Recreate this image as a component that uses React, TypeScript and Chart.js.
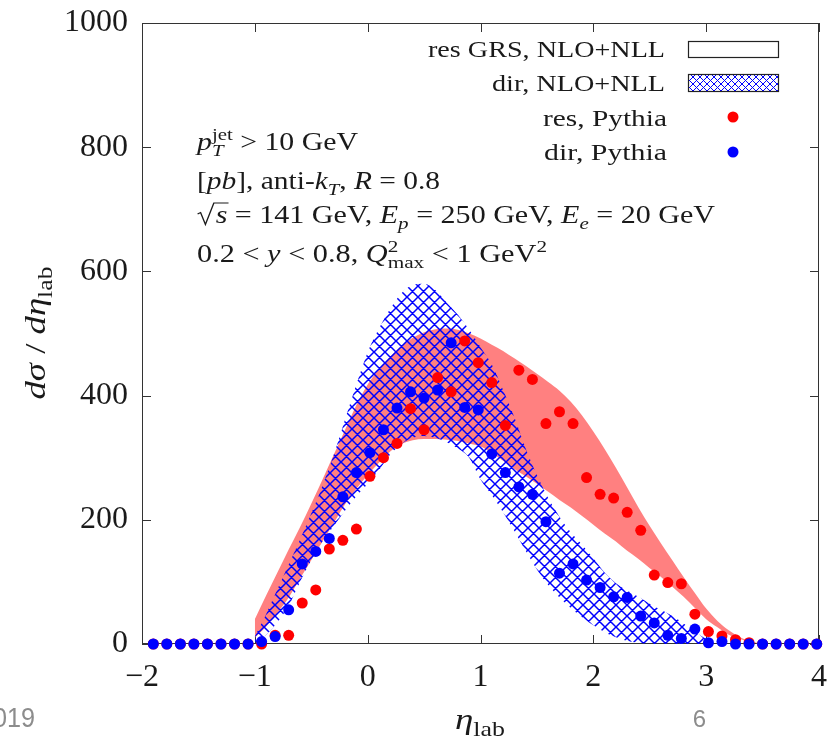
import React, { useEffect, useRef } from 'react';
import { Chart, registerables } from 'chart.js';
Chart.register(...registerables);

// ---- data ----
const pythiaEta = [-1.90, -1.78, -1.66, -1.54, -1.42, -1.30, -1.18, -1.06, -0.94, -0.82, -0.70, -0.58, -0.46, -0.34, -0.22, -0.10, 0.02, 0.14, 0.26, 0.38, 0.50, 0.62, 0.74, 0.86, 0.98, 1.10, 1.22, 1.34, 1.46, 1.58, 1.70, 1.82, 1.94, 2.06, 2.18, 2.30, 2.42, 2.54, 2.66, 2.78, 2.90, 3.02, 3.14, 3.26, 3.38, 3.50, 3.62, 3.74, 3.86, 3.98];
const resPythia = [0, 0, 0, 0, 0, 0, 0, 0, 0, 14, 14, 66, 87, 153, 167, 185, 270, 300, 323, 379, 345, 429, 406, 488, 453, 421, 352, 441, 426, 355, 374, 355, 268, 241, 235, 212, 183, 111, 99, 97, 48, 20, 13, 7, 2, 0, 0, 0, 0, 0];
const dirPythia = [0, 0, 0, 0, 0, 0, 0, 0, 4, 12, 55, 129, 149, 170, 237, 276, 308, 345, 380, 406, 396, 409, 485, 381, 377, 306, 276, 253, 241, 197, 114, 129, 103, 91, 76, 75, 45, 34, 14, 9, 24, 2, 4, 0, 0, 0, 0, 0, 0, 0];

const bandEta = [-1.0, -0.9, -0.8, -0.7, -0.6, -0.5, -0.4, -0.3, -0.2, -0.1, 0.0, 0.1, 0.2, 0.3, 0.4, 0.5, 0.6, 0.7, 0.8, 0.9, 1.0, 1.1, 1.2, 1.3, 1.4, 1.5, 1.6, 1.7, 1.8, 1.9, 2.0, 2.1, 2.2, 2.3, 2.4, 2.5, 2.6, 2.7, 2.8, 2.9, 3.0, 3.1, 3.2, 3.3, 3.4, 3.5];
const resUpper = [40, 78, 115, 152, 188, 226, 265, 305, 345, 385, 418, 443, 463, 480, 493, 502, 507, 508, 506, 500, 492, 482, 472, 460, 448, 435, 422, 408, 390, 368, 342, 314, 284, 252, 220, 190, 162, 135, 108, 82, 57, 37, 22, 11, 4, 0];
const resLower = [10, 28, 50, 75, 105, 135, 165, 195, 225, 250, 272, 292, 310, 322, 328, 330, 330, 329, 327, 323, 318, 308, 295, 282, 270, 258, 245, 232, 220, 206, 192, 178, 165, 150, 137, 122, 108, 92, 76, 58, 40, 27, 15, 8, 3, 0];
const dirUpper = [12, 48, 88, 128, 168, 210, 255, 305, 362, 418, 470, 508, 540, 565, 578, 580, 570, 550, 530, 506, 478, 450, 409, 365, 315, 272, 235, 205, 180, 160, 138, 115, 98, 86, 76, 65, 55, 45, 33, 20, 8, 0, 0, 0, 0, 0];
const dirLower = [0, 15, 35, 62, 100, 135, 165, 190, 215, 238, 258, 280, 305, 322, 332, 335, 332, 325, 315, 300, 265, 240, 212, 182, 150, 120, 95, 75, 58, 43, 30, 19, 11, 5, 2, 0, 0, 0, 0, 0, 0, 0, 0, 0, 0, 0];

const xTicks = [-2, -1, 0, 1, 2, 3, 4];
const yTicks = [0, 200, 400, 600, 800, 1000];

const legendLabels = ['res GRS, NLO+NLL', 'dir, NLO+NLL', 'res, Pythia', 'dir, Pythia'];

// ---- text helpers ----
const FAM = '"Liberation Serif", "Times New Roman", serif';
const TXT = '#1a1a1a';
type Seg = { t: string; it?: boolean; sub?: string; sup?: string; subIt?: boolean; rad?: boolean };
const fnt = (size: number, it?: boolean) => `${it ? 'italic ' : ''}${size}px ${FAM}`;

function measureSeg(ctx: CanvasRenderingContext2D, s: Seg, size: number) {
  ctx.font = fnt(size, s.it);
  let w = ctx.measureText(s.t).width;
  if (s.rad) w += size * 0.62;
  const ss = size * 0.7;
  let sw = 0;
  if (s.sub) { ctx.font = fnt(ss, s.subIt); sw = Math.max(sw, ctx.measureText(s.sub).width); }
  if (s.sup) { ctx.font = fnt(ss, false); sw = Math.max(sw, ctx.measureText(s.sup).width); }
  return w + sw;
}

function drawRich(ctx: CanvasRenderingContext2D, segs: Seg[], x: number, y: number, size: number,
  align: 'left' | 'right' | 'center', target?: number) {
  const widths = segs.map(s => measureSeg(ctx, s, size));
  const nat = widths.reduce((a, b) => a + b, 0);
  const sx = target ? target / nat : 1;
  const tot = nat * sx;
  const x0 = align === 'left' ? x : align === 'right' ? x - tot : x - tot / 2;
  ctx.save();
  ctx.translate(x0, y);
  ctx.scale(sx, 1);
  ctx.textAlign = 'left';
  ctx.textBaseline = 'alphabetic';
  ctx.fillStyle = TXT;
  ctx.strokeStyle = TXT;
  let cx = 0;
  segs.forEach((s, i) => {
    let bx = cx;
    ctx.font = fnt(size, s.it);
    const tw = ctx.measureText(s.t).width;
    if (s.rad) {
      const u = size;
      ctx.lineWidth = u * 0.045;
      ctx.beginPath();
      ctx.moveTo(bx + 0.02 * u, -0.36 * u);
      ctx.lineTo(bx + 0.12 * u, -0.42 * u);
      ctx.lineTo(bx + 0.28 * u, 0.06 * u);
      ctx.lineTo(bx + 0.56 * u, -0.8 * u);
      ctx.lineTo(bx + 0.62 * u + tw + 0.04 * u, -0.8 * u);
      ctx.stroke();
      bx += 0.62 * u;
    }
    ctx.font = fnt(size, s.it);
    ctx.fillText(s.t, bx, 0);
    const ss = size * 0.7;
    if (s.sub) { ctx.font = fnt(ss, s.subIt); ctx.fillText(s.sub, bx + tw, size * 0.24); }
    if (s.sup) { ctx.font = fnt(ss, false); ctx.fillText(s.sup, bx + tw, -size * 0.4); }
    cx += widths[i];
  });
  ctx.restore();
}

function makeHatch(size: number, lw: number, color: string) {
  const c = document.createElement('canvas');
  c.width = size; c.height = size;
  const g = c.getContext('2d')!;
  g.strokeStyle = color;
  g.lineWidth = lw;
  g.beginPath();
  for (const k of [-size, 0, size]) {
    g.moveTo(-size, -size + k); g.lineTo(2 * size, 2 * size + k);
    g.moveTo(-size, 2 * size + k); g.lineTo(2 * size, -size + k);
  }
  g.stroke();
  return g.createPattern(c, 'repeat')!;
}

const decor = {
  id: 'decor',
  beforeDatasetsDraw(chart: any) {
    const { ctx, chartArea: a, scales } = chart;
    ctx.save();
    ctx.strokeStyle = '#333';
    ctx.lineWidth = 1;
    ctx.strokeRect(a.left + 0.5, a.top + 0.5, a.right - a.left - 1, a.bottom - a.top - 1);
    ctx.beginPath();
    for (const v of xTicks) {
      const px = Math.round(scales.x.getPixelForValue(v)) + 0.5;
      ctx.moveTo(px, a.bottom); ctx.lineTo(px, a.bottom - 9);
      ctx.moveTo(px, a.top); ctx.lineTo(px, a.top + 9);
    }
    for (const v of yTicks) {
      const py = Math.round(scales.y.getPixelForValue(v)) + 0.5;
      ctx.moveTo(a.left, py); ctx.lineTo(a.left + 9, py);
      ctx.moveTo(a.right, py); ctx.lineTo(a.right - 9, py);
    }
    ctx.stroke();
    ctx.restore();
  },
  afterDraw(chart: any) {
    const ctx: CanvasRenderingContext2D = chart.ctx;
    ctx.save();
    // annotations
    drawRich(ctx, [{ t: 'p', it: true, sub: 'T', subIt: true, sup: 'jet' }, { t: ' > 10 GeV' }], 197, 150, 25, 'left', 161);
    drawRich(ctx, [{ t: '[' }, { t: 'pb', it: true }, { t: '], anti-' }, { t: 'k', it: true, sub: 'T', subIt: true }, { t: ', ' }, { t: 'R', it: true }, { t: ' = 0.8' }], 197, 189, 25, 'left', 243);
    drawRich(ctx, [{ t: 's', it: true, rad: true }, { t: ' = 141 GeV, ' }, { t: 'E', it: true, sub: 'p', subIt: true }, { t: ' = 250 GeV, ' }, { t: 'E', it: true, sub: 'e', subIt: true }, { t: ' = 20 GeV' }], 197, 223, 25, 'left', 518);
    drawRich(ctx, [{ t: '0.2 < ' }, { t: 'y', it: true }, { t: ' < 0.8, ' }, { t: 'Q', it: true, sub: 'max', sup: '2' }, { t: ' < 1 GeV', sup: '2' }], 197, 262, 25, 'left', 350);

    // legend
    drawRich(ctx, [{ t: legendLabels[0] }], 665, 57, 24, 'right', 237);
    drawRich(ctx, [{ t: legendLabels[1] }], 665, 91, 24, 'right', 173);
    drawRich(ctx, [{ t: legendLabels[2] }], 667, 126, 24, 'right', 124);
    drawRich(ctx, [{ t: legendLabels[3] }], 667, 160, 24, 'right', 123);
    ctx.fillStyle = '#fff';
    ctx.fillRect(688, 41, 91, 17);
    ctx.strokeStyle = '#222';
    ctx.lineWidth = 1.2;
    ctx.strokeRect(688.5, 41.5, 90, 16);
    ctx.fillStyle = '#fff';
    ctx.fillRect(688, 74, 91, 18);
    ctx.fillStyle = makeHatch(7, 1, '#0000ff');
    ctx.fillRect(688, 74, 91, 18);
    ctx.strokeRect(688.5, 74.5, 90, 17);
    ctx.fillStyle = '#ff0000';
    ctx.beginPath(); ctx.arc(733, 117, 5.5, 0, Math.PI * 2); ctx.fill();
    ctx.fillStyle = '#0000ff';
    ctx.beginPath(); ctx.arc(733, 152, 5.5, 0, Math.PI * 2); ctx.fill();

    // axis titles
    drawRich(ctx, [{ t: 'η', it: true, sub: 'lab' }], 480, 729, 30, 'center', 50);
    ctx.save();
    ctx.translate(45, 333);
    ctx.rotate(-Math.PI / 2);
    drawRich(ctx, [{ t: 'dσ', it: true }, { t: ' / ' }, { t: 'dη', it: true, sub: 'lab' }], 0, 0, 30, 'center', 133);
    ctx.restore();

    // slide remnants
    ctx.fillStyle = '#8c8c8c';
    ctx.textBaseline = 'alphabetic';
    ctx.font = '28px "Liberation Sans", sans-serif';
    ctx.save();
    ctx.translate(35, 727);
    ctx.scale(0.9, 1);
    ctx.textAlign = 'right';
    ctx.fillText('2019', 0, 0);
    ctx.restore();
    ctx.font = '24px "Liberation Sans", sans-serif';
    ctx.textAlign = 'right';
    ctx.fillText('6', 706, 727);
    ctx.restore();
  },
};

export default function App() {
  const ref = useRef<HTMLCanvasElement | null>(null);
  useEffect(() => {
    const canvas = ref.current!;
    const hatch = makeHatch(11, 1.5, '#0000ff');
    const pts = (xs: number[], ys: number[]) => xs.map((x, i) => ({ x, y: ys[i] }));
    const minus = (v: any) => (Number(v) < 0 ? '\u2212' + Math.abs(Number(v)) : String(v));
    const band = { borderWidth: 0, pointRadius: 0, cubicInterpolationMode: 'monotone' };
    const chart = new Chart(canvas, {
      type: 'line',
      data: {
        datasets: [
          { ...band, label: 'resLower', data: pts(bandEta, resLower), fill: false, order: 5 } as any,
          { ...band, label: 'resUpper', data: pts(bandEta, resUpper), fill: '-1', backgroundColor: 'rgb(255,128,128)', order: 4 } as any,
          { ...band, label: 'dirLower', data: pts(bandEta, dirLower), fill: false, order: 3 } as any,
          { ...band, label: 'dirUpper', data: pts(bandEta, dirUpper), fill: '-1', backgroundColor: hatch, order: 2 } as any,
          { label: 'resPythia', data: pts(pythiaEta, resPythia), showLine: false, pointRadius: 5.5, pointBackgroundColor: '#ff0000', pointBorderWidth: 0, borderColor: '#ff0000', clip: false, order: 1 } as any,
          { label: 'dirPythia', data: pts(pythiaEta, dirPythia), showLine: false, pointRadius: 5.5, pointBackgroundColor: '#0000ff', pointBorderWidth: 0, borderColor: '#0000ff', clip: false, order: 0 } as any,
        ],
      },
      options: {
        animation: false,
        responsive: false,
        devicePixelRatio: 1,
        layout: { padding: { top: 23, right: 10, left: 0, bottom: 0 } },
        plugins: { legend: { display: false }, tooltip: { enabled: false } },
        elements: { point: { hoverRadius: 5.5 } },
        scales: {
          x: {
            type: 'linear', min: -2, max: 4,
            afterBuildTicks: (s: any) => { s.ticks = xTicks.map(v => ({ value: v })); },
            afterFit: (s: any) => { s.height = 94; s.paddingLeft = 0; s.paddingRight = 0; },
            grid: { display: false, drawTicks: false },
            border: { display: false },
            ticks: { font: { family: 'Liberation Serif', size: 32 }, color: TXT, padding: 14, maxRotation: 0, autoSkip: false, callback: minus },
          },
          y: {
            type: 'linear', min: 0, max: 1000,
            afterBuildTicks: (s: any) => { s.ticks = yTicks.map(v => ({ value: v })); },
            afterFit: (s: any) => { s.width = 142; s.paddingTop = 0; s.paddingBottom = 0; },
            grid: { display: false, drawTicks: false },
            border: { display: false },
            ticks: { font: { family: 'Liberation Serif', size: 32 }, color: TXT, padding: 14, autoSkip: false, callback: (v: any) => String(v) },
          },
        },
      },
      plugins: [decor],
    } as any);
    return () => chart.destroy();
  }, []);
  return (
    <div style={{ position: 'absolute', left: 0, top: 0, width: 829, height: 738, background: '#fff' }}>
      <canvas ref={ref} width={829} height={738} style={{ display: 'block' }} />
    </div>
  );
}
